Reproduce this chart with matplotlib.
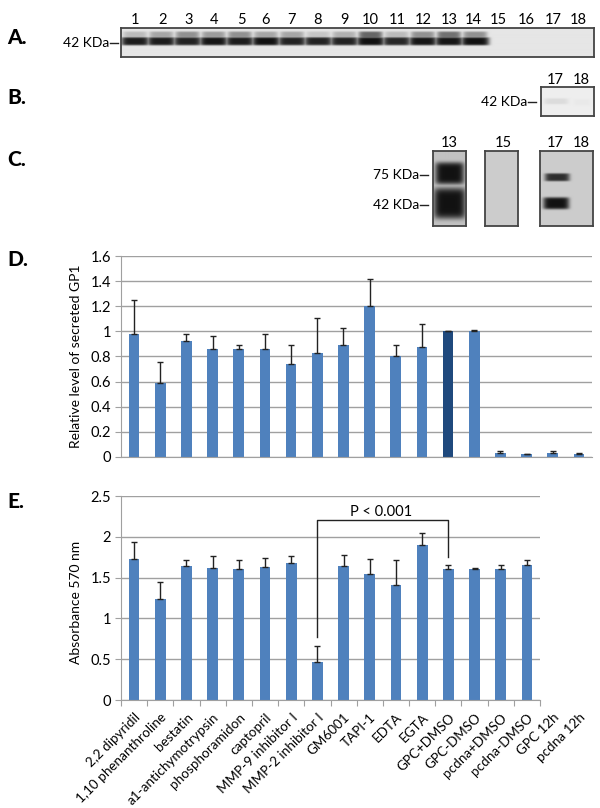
import matplotlib
matplotlib.use("Agg")
import matplotlib.pyplot as plt
import numpy as np

plt.rcParams['font.family'] = ['Lato', 'DejaVu Sans']

# panel D
d_values = [0.98, 0.59, 0.92, 0.86, 0.86, 0.86, 0.74, 0.83, 0.89, 1.20, 0.80, 0.875, 1.0, 1.005, 0.03, 0.02, 0.03, 0.025]
d_errors = [0.27, 0.17, 0.06, 0.10, 0.03, 0.12, 0.15, 0.275, 0.135, 0.22, 0.09, 0.185, 0.0, 0.005, 0.015, 0.005, 0.02, 0.005]

# panel E
e_labels = ['2,2 dipyridil', '1,10 phenanthroline', 'bestatin', 'a1-antichymotrypsin', 'phosphoramidon',
            'captopril', 'MMP-9 inhibitor I', 'MMP-2 inhibitor I', 'GM6001', 'TAPI-1', 'EDTA', 'EGTA',
            'GPC+DMSO', 'GPC-DMSO', 'pcdna+DMSO', 'pcdna-DMSO', 'GPC 12h', 'pcdna 12h']
e_values = [1.73, 1.24, 1.64, 1.62, 1.60, 1.63, 1.68, 0.47, 1.64, 1.55, 1.41, 1.90, 1.61, 1.61, 1.61, 1.65]
e_errors = [0.21, 0.21, 0.08, 0.14, 0.12, 0.11, 0.08, 0.19, 0.14, 0.18, 0.31, 0.15, 0.05, 0.01, 0.05, 0.07]

# blot A, darkness of the lower and upper band in each lane
a_lanes = [1, 2, 3, 4, 5, 6, 7, 8, 9, 10, 11, 12, 13, 14]
a_main = [0.95, 0.95, 0.92, 0.98, 0.95, 1.0, 0.92, 0.92, 0.92, 1.0, 0.9, 0.98, 0.98, 1.0]
a_upper = [0.2, 0.3, 0.4, 0.35, 0.4, 0.3, 0.3, 0.15, 0.25, 0.6, 0.2, 0.4, 0.55, 0.4]


def axes_px(left, top, right, bottom):
    return fig.add_axes([left / 600, 1 - bottom / 808, (right - left) / 600, (bottom - top) / 808])


def blot(left, top, right, bottom, bands, bg=0.9):
    # bands: x, y, half width, half height, darkness (pixels)
    xx, yy = np.meshgrid(np.arange(left, right, 0.5), np.arange(top, bottom, 0.5))
    dark = np.zeros_like(xx)
    for x0, y0, wx, wy, s in bands:
        dark = np.maximum(dark, s * np.exp(-(((xx - x0) / wx) ** 6 + ((yy - y0) / wy) ** 6)))
    ax = axes_px(left, top, right, bottom)
    ax.imshow(bg * (1 - dark) + 0.07 * dark, cmap='gray', vmin=0, vmax=1, aspect='auto', interpolation='bilinear')
    ax.set_xticks([])
    ax.set_yticks([])
    for s in ax.spines.values():
        s.set_color('#444444')
        s.set_linewidth(1.3)
    return ax


fig = plt.figure(figsize=(6, 8.08), dpi=100, facecolor='white')

bands_a = []
for lane, m, u in zip(a_lanes, a_main, a_upper):
    x = 135 + (lane - 1) * 26.15
    bands_a.append((x, 35.5, 12, 3.5, u))
    bands_a.append((x, 41.5, 14, 4, m))
blot(121, 28, 594, 57, bands_a, bg=0.9)
blot(541, 87, 594, 116, [(556, 101, 12, 3, 0.08), (582, 102, 8, 3, 0.02)], bg=0.93)
blot(433, 151, 466, 226, [(449, 173, 14, 11, 1.0), (449, 203, 15.5, 15.5, 1.0)], bg=0.76)
blot(485, 151, 518, 226, [], bg=0.8)
blot(540, 151, 593, 226, [(557, 177, 12.5, 4, 0.85), (556, 203, 13, 6, 1.0)], bg=0.8)

# panel D
ax = axes_px(121, 256, 592, 457)
x = np.arange(len(d_values))
colors = ['#4f81bd'] * len(d_values)
colors[12] = '#1f497d'
ax.bar(x, d_values, width=0.41, color=colors, zorder=2)
ax.errorbar(x, d_values, yerr=[np.zeros(len(d_errors)), d_errors], fmt='none', ecolor='#222222',
            elinewidth=1, capsize=2, capthick=1, zorder=3)
ax.set_xlim(-0.5, 17.5)
ax.set_ylim(0, 1.6)
ax.set_yticks([0, 0.2, 0.4, 0.6, 0.8, 1, 1.2, 1.4, 1.6])
ax.set_yticklabels(['0', '0.2', '0.4', '0.6', '0.8', '1', '1.2', '1.4', '1.6'], fontsize=10.5)
ax.set_xticks([])
ax.grid(axis='y', color='#a0a0a0', linewidth=1, zorder=0)
ax.set_axisbelow(True)
ax.tick_params(axis='y', length=4, color='#a0a0a0', pad=3)
for s in ['top', 'right']:
    ax.spines[s].set_visible(False)
for s in ['left', 'bottom']:
    ax.spines[s].set_color('#a0a0a0')
ax.set_ylabel('Relative level of secreted GP1', fontsize=10, labelpad=6)

# panel E
ax = axes_px(121, 496, 540, 700)
x = np.arange(len(e_values))
ax.bar(x, e_values, width=0.41, color='#4f81bd', zorder=2)
ax.errorbar(x, e_values, yerr=[np.zeros(len(e_errors)), e_errors], fmt='none', ecolor='#222222',
            elinewidth=1, capsize=2, capthick=1, zorder=3)
ax.set_xlim(-0.5, 15.5)
ax.set_ylim(0, 2.5)
ax.set_yticks([0, 0.5, 1, 1.5, 2, 2.5])
ax.set_yticklabels(['0', '0.5', '1', '1.5', '2', '2.5'], fontsize=10.5)
ax.set_xticks(np.arange(-0.5, 16, 1))
ax.set_xticklabels([])
ax.grid(axis='y', color='#a0a0a0', linewidth=1, zorder=0)
ax.set_axisbelow(True)
ax.tick_params(axis='both', length=4, color='#a0a0a0', pad=3)
for s in ['top', 'right']:
    ax.spines[s].set_visible(False)
for s in ['left', 'bottom']:
    ax.spines[s].set_color('#a0a0a0')
ax.set_ylabel('Absorbance 570 nm', fontsize=10, labelpad=6, y=0.48)

# the last two labels have no bars and hang past the axis
for i, lab in enumerate(e_labels):
    ax.annotate(lab, xy=(i, 0), xycoords='data', xytext=(0, -8), textcoords='offset points', rotation=45,
                ha='right', va='top', rotation_mode='anchor', fontsize=9.7, annotation_clip=False)

ax.plot([7, 7, 12, 12], [0.775, 2.2, 2.2, 1.75], color='#222222', linewidth=1, zorder=4)
ax.text(9.43, 2.3, 'P < 0.001', ha='center', va='center', fontsize=10.5)

# letters and blot labels in figure pixels
top = fig.add_axes([0, 0, 1, 1], facecolor='none')
top.set_xlim(0, 600)
top.set_ylim(808, 0)
top.axis('off')
for letter, y in [('A.', 38), ('B.', 97), ('C.', 160), ('D.', 260), ('E.', 502)]:
    top.text(7, y, letter, fontsize=15, fontweight='black', va='center', ha='left')

a_nums = [135, 163, 189, 214, 241, 266, 292, 318, 344, 370, 397, 423, 449, 473, 498, 526, 553, 578]
for i, px in enumerate(a_nums):
    top.text(px, 20, str(i + 1), fontsize=10.5, ha='center', va='center')
for num, px, py in [('17', 555, 80), ('18', 581, 80), ('13', 449, 143), ('15', 503, 143), ('17', 555, 143), ('18', 581, 143)]:
    top.text(px, py, num, fontsize=10.5, ha='center', va='center')
for lab, px, py in [('42 KDa', 118, 43), ('42 KDa', 536, 102), ('75 KDa', 428, 175), ('42 KDa', 428, 205)]:
    top.text(px - 9, py, lab, fontsize=10, ha='right', va='center')
    top.plot([px - 8, px], [py, py], color='#222222', linewidth=1)

fig.savefig('out.png', dpi=100)
